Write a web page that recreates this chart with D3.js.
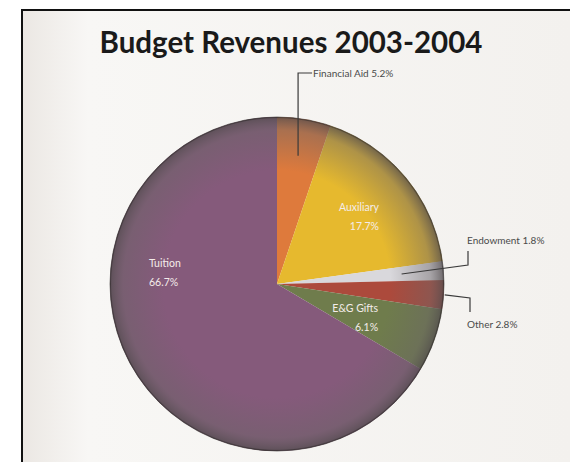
<!DOCTYPE html>
<html>
<head>
<meta charset="utf-8">
<script src="https://cdn.jsdelivr.net/npm/d3@7"></script>
<style>
  body { margin: 0; background: #fff; }
  svg { display: block; }
</style>
</head>
<body>
<div id="chart"></div>
<script>
// data, clockwise from 12 o'clock
const categories = ["Financial Aid", "Auxiliary", "Endowment", "Other", "E&G Gifts", "Tuition"];
const shares = [5.2, 17.7, 1.8, 2.8, 6.1, 66.7];
const colors = ["#de7a3c", "#e6b92e", "#d9d8dc", "#ac4a3c", "#6f7c4c", "#855a7b"];

const width = 570, height = 462;
const cx = 277, cy = 284, radius = 167;

const svg = d3.select("#chart").append("svg")
  .attr("width", width)
  .attr("height", height);

const defs = svg.append("defs");
const bg = defs.append("linearGradient").attr("id", "bg").attr("x1", 0).attr("x2", 1);
bg.append("stop").attr("offset", "0%").attr("stop-color", "#ebe7e3");
bg.append("stop").attr("offset", "12%").attr("stop-color", "#f8f7f5");
bg.append("stop").attr("offset", "100%").attr("stop-color", "#f3f1ee");

const rim = defs.append("radialGradient").attr("id", "rim")
  .attr("cx", "50%").attr("cy", "50%").attr("r", "50%");
rim.append("stop").attr("offset", "0%").attr("stop-color", "#6a6466").attr("stop-opacity", 0);
rim.append("stop").attr("offset", "68%").attr("stop-color", "#6a6466").attr("stop-opacity", 0);
rim.append("stop").attr("offset", "92%").attr("stop-color", "#6a6466").attr("stop-opacity", 0.45);
rim.append("stop").attr("offset", "99%").attr("stop-color", "#565052").attr("stop-opacity", 0.75);
rim.append("stop").attr("offset", "100%").attr("stop-color", "#2e2a2a").attr("stop-opacity", 0.9);

// frame
svg.append("rect")
  .attr("x", 22).attr("y", 10)
  .attr("width", width - 22).attr("height", height - 10)
  .attr("fill", "url(#bg)");
svg.append("path")
  .attr("d", `M22,${height} L22,10 L${width},10`)
  .attr("fill", "none")
  .attr("stroke", "#111")
  .attr("stroke-width", 2);

svg.append("text")
  .attr("x", 291).attr("y", 53)
  .attr("text-anchor", "middle")
  .attr("font-family", "Lato, 'Open Sans', sans-serif")
  .attr("font-weight", "bold")
  .attr("font-size", 29.5)
  .attr("fill", "#1a1a1a")
  .text("Budget Revenues 2003-2004");

const data = categories.map((c, i) => ({ name: c, value: shares[i], color: colors[i] }));

const pie = d3.pie().sort(null).value(d => d.value);
const arcs = pie(data);
const arc = d3.arc().innerRadius(0).outerRadius(radius);

const g = svg.append("g").attr("transform", `translate(${cx},${cy})`);

g.selectAll("path.slice")
  .data(arcs)
  .join("path")
  .attr("class", "slice")
  .attr("d", arc)
  .attr("fill", d => d.data.color);

g.append("circle")
  .attr("r", radius)
  .attr("fill", "url(#rim)")
  .attr("stroke", "#3a3535")
  .attr("stroke-opacity", 0.6)
  .attr("stroke-width", 1);

// labels inside the slices
const inside = {
  "Auxiliary": { r: 96, dx: 0, dy: -12, anchor: "end", lx: 28 },
  "E&G Gifts": { r: 84, dx: 0, dy: 0, anchor: "end", lx: 22 },
  "Tuition": { r: 0, dx: -128, dy: -17, anchor: "start", lx: 0 }
};
arcs.filter(d => inside[d.data.name]).forEach(d => {
  const o = inside[d.data.name];
  const c = d3.arc().innerRadius(o.r).outerRadius(o.r).centroid(d);
  const x = c[0] + o.dx, y = c[1] + o.dy;
  const t = g.append("text")
    .attr("font-family", "Lato, sans-serif")
    .attr("font-size", 10.5)
    .attr("fill", "#f4ecea")
    .attr("text-anchor", o.anchor);
  t.append("tspan").attr("x", x + o.lx).attr("y", y).text(d.data.name);
  t.append("tspan").attr("x", x + o.lx).attr("y", y + 19).text(d.data.value + "%");
});

// labels outside with leader lines
const outside = {
  "Financial Aid": { r: 130, path: p => [p, [p[0], -211], [p[0] + 14, -211]], tx: 18, ty: -207 },
  "Endowment": { r: 125, path: p => [p, [191, -19], [191, -33]], tx: 190, ty: -40 },
  "Other": { r: 168, path: p => [p, [193, 14], [193, 28]], tx: 190, ty: 44 }
};
arcs.filter(d => outside[d.data.name]).forEach(d => {
  const o = outside[d.data.name];
  const p = d3.arc().innerRadius(o.r).outerRadius(o.r).centroid(d);
  const pts = o.path(p);
  g.append("path")
    .attr("d", d3.line()(pts))
    .attr("fill", "none")
    .attr("stroke", "#3a3a3a")
    .attr("stroke-width", 1.2);
  const last = pts[pts.length - 1];
  g.append("text")
    .attr("x", d.data.name === "Financial Aid" ? last[0] + 1 : o.tx)
    .attr("y", o.ty)
    .attr("font-family", "Lato, sans-serif")
    .attr("font-size", 10)
    .attr("fill", "#4a4a4a")
    .text(`${d.data.name} ${d.data.value}%`);
});
</script>
</body>
</html>
